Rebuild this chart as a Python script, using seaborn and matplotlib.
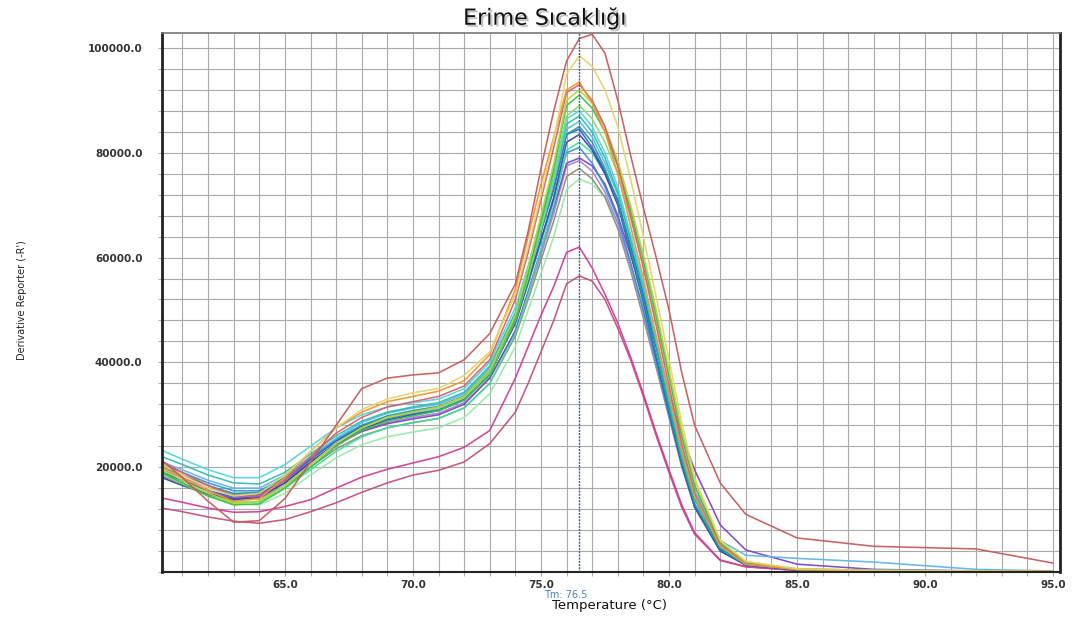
import matplotlib
matplotlib.use("Agg")
import matplotlib.pyplot as plt
import matplotlib.patheffects as pe
from matplotlib.ticker import FixedLocator, MultipleLocator, FuncFormatter
import pandas as pd
import seaborn as sns

sns.set_theme(style="white")
plt.rcParams['font.family'] = ['DejaVu Sans']

# Temperature sampling points (°C)
TEMPS = [60.2, 61, 62, 63, 64, 65, 66, 67, 68, 69, 70, 71, 72, 73,
         74, 74.5, 75, 75.5, 76, 76.5, 77, 77.5, 78, 78.5, 79, 79.5, 80, 80.5, 81,
         82, 83, 85, 88, 92, 95]

# Derivative reporter values (thousands)
brick = [21.3, 18, 13.5, 9.5, 9.8, 14, 21, 28, 35, 37, 37.6, 38, 40.5, 45.5,
         55, 65, 77, 88, 97.5, 101.8, 102.6, 99, 90, 79.5, 69.5, 60, 50, 38, 28,
         17, 11, 6.5, 4.9, 4.4, 1.7]
khaki = [20.5, 18.5, 16, 14.5, 15, 18.5, 23, 27.5, 31, 33, 34.2, 35, 37.5, 42,
         53, 62, 72, 82.5, 95, 98.5, 96.5, 92, 85, 75, 64, 52.5, 40.5, 28.5, 18,
         6, 2, 0.6, 0.3, 0.2, 0.1]
orange = [20, 18, 15.5, 13.5, 14, 18, 23, 27.5, 30.5, 32.5, 33.5, 34.5, 36.5, 41.5,
          54, 64, 74, 83, 92, 93.5, 89.5, 84, 76, 66, 56, 45, 34, 23, 14.5,
          5, 1.5, 0.5, 0.2, 0.1, 0.1]
rose = [21, 19, 16.5, 14.5, 14.5, 17.5, 22, 26.5, 29.5, 31.5, 32.5, 33.5, 35.5, 40.5,
        52, 61, 71, 81, 91.5, 93, 90, 85, 77.5, 68, 58, 47, 35.5, 24.5, 15,
        5.2, 1.6, 0.5, 0.2, 0.1, 0.1]
yellowgreen = [19.5, 17.5, 15, 13.2, 13.5, 16.5, 20.5, 24.5, 27.5, 29.5, 30.5, 31.5, 33.5, 38.5,
               49, 58, 68, 78, 90, 92, 89.5, 85, 78.5, 70, 60.5, 50, 38.5, 27, 17.5,
               6, 2, 0.6, 0.3, 0.2, 0.1]
green = [19, 17, 14.5, 12.8, 13, 16, 20, 24, 27, 28.8, 29.8, 30.8, 32.8, 37.5,
         48, 57, 67, 77, 89, 91, 88.5, 84, 77.5, 69, 59.5, 49, 37.5, 26, 16.5,
         5.5, 1.8, 0.5, 0.2, 0.1, 0.1]
lightgreen = [18.5, 16.8, 14.5, 13, 13.5, 16.5, 20.5, 24.5, 27.5, 29.5, 30.5, 31.3, 33.3, 38,
              48, 56, 65.5, 75, 87, 89, 86.5, 82, 76, 67.5, 58.5, 48, 37, 26, 16.5,
              5.5, 1.8, 0.5, 0.2, 0.1, 0.1]
cyan = [23.2, 21.5, 19.5, 18, 18, 20.5, 24, 27.5, 30, 31.5, 32.3, 33, 35, 40,
        50.5, 58.5, 67.5, 76.5, 86.5, 88, 85, 80, 73.5, 64.5, 55, 44.5, 33.5, 23, 14.5,
        5, 1.5, 0.5, 0.2, 0.1, 0.1]
turquoise = [22, 20.5, 18.5, 17, 16.8, 19, 22.5, 26, 28.8, 30.5, 31.5, 32.3, 34.3, 39.3,
             49.5, 57.5, 66.5, 75.5, 85.5, 87, 84, 79, 72.5, 63.5, 54, 43.5, 32.5, 22, 14,
             4.8, 1.5, 0.6, 0.3, 0.2, 0.1]
skyblue = [21, 19.5, 17.5, 16, 16, 18.5, 22, 25.5, 28.5, 30.3, 31.3, 32, 34, 39,
           49, 57, 65.5, 74.5, 84.5, 86, 83, 78, 72, 63.5, 54.5, 44.5, 34, 24, 15.5,
           6, 3.2, 2.6, 1.9, 0.5, 0.2]
teal = [20, 18.5, 16.5, 15, 15.2, 18, 21.8, 25.3, 28, 29.8, 30.8, 31.6, 33.6, 38.5,
        48.5, 56.5, 65, 73.5, 83.5, 85, 82, 77, 70.5, 61.5, 52, 41.5, 31, 21, 13,
        4.3, 1.4, 0.5, 0.2, 0.1, 0.1]
blue = [19, 17.5, 15.5, 14.3, 14.8, 17.5, 21.5, 25, 27.8, 29.5, 30.5, 31.5, 33.5, 38.5,
        48.5, 56.5, 65, 73, 83.5, 84.5, 81, 76.5, 71, 62, 53, 43, 32, 22, 14,
        4.5, 1.5, 0.4, 0.2, 0.1, 0.1]
navy = [18, 16.5, 14.8, 13.8, 14.2, 17, 21, 24.5, 27.3, 29, 30, 30.8, 32.8, 37.8,
        47.5, 55.5, 63.5, 71.5, 82, 83.5, 80.5, 76, 70, 61, 51.5, 41, 30.5, 20.5, 12.5,
        4, 1.3, 0.4, 0.2, 0.1, 0.1]
springgreen = [18.8, 17, 14.8, 13.3, 13.4, 16, 19.5, 23, 25.8, 27.5, 28.5, 29.3, 31.3, 36,
               45.5, 53, 61.5, 70, 80.5, 82, 80, 76, 70.5, 62.5, 54, 44, 33.5, 23, 14.5,
               5, 1.7, 0.5, 0.2, 0.1, 0.1]
dodger = [20.5, 19, 17, 15.5, 15.5, 18, 21.5, 25, 27.7, 29.3, 30.2, 31, 33, 38,
          47.5, 55, 63, 71, 80, 81, 78, 73.5, 67.5, 59, 50, 40, 30, 20.5, 12.5,
          4.2, 1.4, 0.5, 0.3, 0.2, 0.1]
purple = [18.3, 16.8, 15, 14, 14.5, 17, 20.8, 24.3, 26.8, 28.3, 29.2, 30, 32, 37,
          46, 53.5, 61.5, 69.5, 78, 79, 77.5, 74, 68, 60.5, 52, 43, 34, 26, 19.5,
          9, 4.2, 1.5, 0.5, 0.2, 0.1]
lilac = [19.5, 18, 16, 14.8, 15, 17.5, 21, 24.5, 27, 28.5, 29.5, 30.3, 32.3, 37,
         46, 53, 60.5, 68.5, 77.5, 78.5, 76.5, 72.5, 66.5, 58.5, 49.5, 40, 30, 20.5, 12.5,
         4.2, 1.4, 0.4, 0.2, 0.1, 0.1]
gray = [19, 17.5, 15.5, 14, 14, 16.5, 20, 23.5, 26, 27.5, 28.5, 29.3, 31.3, 36,
        45, 52, 59.5, 67, 75.5, 77, 75, 71.5, 65.5, 57.5, 48.5, 39, 29.5, 20, 12.3,
        4, 1.4, 0.4, 0.2, 0.1, 0.1]
palegreen = [18.5, 16.8, 14.5, 13, 12.8, 15, 18.5, 21.8, 24.3, 25.8, 26.7, 27.5, 29.5, 34,
             43, 50, 57, 64, 73, 75, 74, 71.5, 66.5, 59, 50.5, 41, 31, 21, 13,
             4.5, 1.6, 0.5, 0.2, 0.1, 0.1]
magenta = [14.1, 13.3, 12.2, 11.4, 11.5, 12.5, 13.8, 16, 18.1, 19.6, 20.8, 22, 23.8, 27,
           37, 43, 49, 54.5, 61, 62, 58, 53, 47.5, 41, 34, 26.5, 19.5, 12.8, 7.5,
           2.3, 1, 0.3, 0.1, 0.1, 0.1]
pink = [12.2, 11.5, 10.5, 9.7, 9.3, 10, 11.5, 13.2, 15.2, 17, 18.5, 19.4, 21, 24.5,
        30.5, 36, 42, 48, 55, 56.5, 55.5, 52, 46.5, 40.5, 33.5, 26, 19, 12.3, 7.2,
        2.2, 1, 0.3, 0.1, 0.1, 0.1]

SERIES = {
    "pink": (pink, "#c44f80"), "magenta": (magenta, "#d23c98"),
    "palegreen": (palegreen, "#98e8a8"), "gray": (gray, "#8a8f80"),
    "lilac": (lilac, "#a586d4"), "purple": (purple, "#7a45c8"),
    "dodger": (dodger, "#3a8fdc"), "springgreen": (springgreen, "#3ee09a"),
    "navy": (navy, "#3a46a8"), "blue": (blue, "#2f5fd6"),
    "teal": (teal, "#1d9c9c"), "skyblue": (skyblue, "#5fb4ea"),
    "turquoise": (turquoise, "#2dbfae"), "cyan": (cyan, "#4fd6e0"),
    "lightgreen": (lightgreen, "#86dd6a"), "green": (green, "#3cc04a"),
    "yellowgreen": (yellowgreen, "#b5d43c"), "rose": (rose, "#d9606e"),
    "orange": (orange, "#f0952e"), "khaki": (khaki, "#e6d36a"),
    "brick": (brick, "#c85a5a"),
}
UNIT = 1000  # values are given in thousands

rows = []
for name, (vals, _) in SERIES.items():
    for t, v in zip(TEMPS, vals):
        rows.append({"T": t, "v": v * UNIT, "sample": name})
df = pd.DataFrame(rows)
order = list(SERIES.keys())
palette = {k: c for k, (_, c) in SERIES.items()}

W, H = 1076, 620
fig = plt.figure(figsize=(W / 100, H / 100), dpi=100)
fig.patch.set_facecolor("white")
ax = fig.add_axes([162 / W, 1 - 572 / H, (1060 - 162) / W, (572 - 33) / H])

sns.lineplot(data=df, x="T", y="v", hue="sample", hue_order=order, palette=palette,
             estimator=None, sort=False, lw=1.15, legend=False, ax=ax, alpha=0.95)

ax.set_xlim(60.2, 95.27)
ax.set_ylim(0, 102850)
ax.xaxis.set_major_locator(FixedLocator([65, 70, 75, 80, 85, 90, 95]))
ax.xaxis.set_minor_locator(MultipleLocator(1))
ax.yaxis.set_major_locator(FixedLocator([20000, 40000, 60000, 80000, 100000]))
ax.yaxis.set_minor_locator(MultipleLocator(4000))
fmt = FuncFormatter(lambda v, p: f"{v:.1f}")
ax.xaxis.set_major_formatter(fmt)
ax.yaxis.set_major_formatter(fmt)
ax.grid(which="both", color="#a9a9a9", lw=0.8)
ax.set_axisbelow(True)
ax.set_xlabel("")
ax.set_ylabel("")
ax.set_facecolor("white")

ax.tick_params(axis="both", which="both", direction="out", length=3, color="#b0b0b0",
               width=0.8, labelsize=7.5, labelcolor="#333333")
ax.tick_params(axis="x", which="both", bottom=True, pad=2.5)
ax.tick_params(axis="y", which="both", left=True, pad=11)
for lab in ax.get_xticklabels() + ax.get_yticklabels():
    lab.set_fontweight("bold")

for side, sp in ax.spines.items():
    sp.set_visible(True)
    sp.set_color("#222222")
    sp.set_linewidth(1.5)
ax.spines["left"].set_linewidth(2)
ax.spines["right"].set_linewidth(2)
ax.spines["top"].set_color("#777777")
ax.spines["top"].set_linewidth(1.2)

# Tm marker
ax.axvline(76.5, color="#3a5f8a", lw=1.0, ls=(0, (1.5, 0.8)), zorder=5)
fig.text(566 / W, 1 - 595 / H, "Tm: 76.5", color="#4a80c4", fontsize=7,
         ha="center", va="center")

fig.text(610 / W, 1 - 605 / H, "Temperature (°C)", fontsize=9.5, color="#111111",
         ha="center", va="center")
fig.text(22 / W, 1 - 300 / H, "Derivative Reporter (-R')", fontsize=7, rotation=90,
         color="#222222", ha="center", va="center")
fig.text(545 / W, 1 - 18 / H, "Erime Sıcaklığı", fontsize=16, color="#111111",
         ha="center", va="center",
         path_effects=[pe.withSimplePatchShadow(offset=(1.5, -1.5), shadow_rgbFace="#999999", alpha=0.6)])

fig.savefig("out.png", dpi=100)
